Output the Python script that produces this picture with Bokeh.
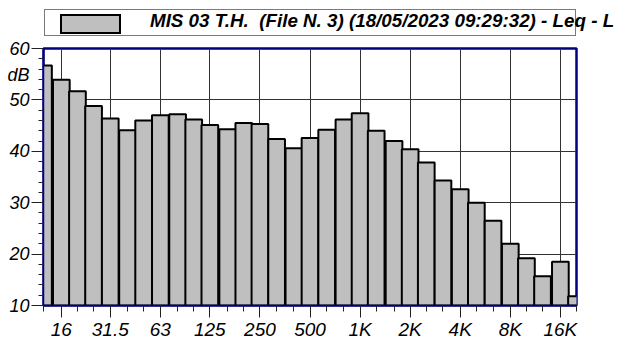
import html
from bokeh.plotting import figure
from bokeh.layouts import column
from bokeh.models import Range1d, FixedTicker, ColumnDataSource, LinearAxis, Div
from bokeh.embed import file_html
from bokeh.resources import INLINE

# Third-octave band centre frequencies (Hz)
freqs = [12.5, 16, 20, 25, 31.5, 40, 50, 63, 80, 100, 125, 160, 200, 250, 315,
         400, 500, 630, 800, 1000, 1250, 1600, 2000, 2500, 3150, 4000, 5000,
         6300, 8000, 10000, 12500, 16000, 20000]
# Leq levels (dB)
levels = [56.7, 53.9, 51.7, 48.8, 46.4, 44.1, 46.0, 47.0, 47.2, 46.2, 45.1,
          44.3, 45.5, 45.3, 42.4, 40.6, 42.6, 44.2, 46.2, 47.4, 44.0, 42.0,
          40.4, 37.8, 34.3, 32.6, 30.0, 26.5, 22.0, 19.2, 15.7, 18.5, 11.8]
tick_freqs = [16, 31.5, 63, 125, 250, 500, 1000, 2000, 4000, 8000, 16000]
tick_labels = ["16", "31.5", "63", "125", "250", "500", "1K", "2K", "4K", "8K", "16K"]
y_ticks = [10, 20, 30, 40, 50, 60]
y_minor = [12, 14, 16, 18, 22, 24, 26, 28, 32, 34, 36, 38, 42, 44, 46, 48,
           52, 54, 56, 58]
unit_label = "dB"
unit_pos = 54.8
legend_text = "MIS 03 T.H.\u00a0 (File N. 3) (18/05/2023 09:29:32) - Leq - L"

FONT = "Liberation Sans"
NAVY = "#000080"
BAR_FILL = "#bfbfbf"

# ---------------- legend strip (HTML) ----------------
legend_html = (
    '<div style="position:relative;width:620px;height:37px;overflow:hidden;'
    'margin:0;padding:0;">'
    '<div style="position:absolute;left:44px;top:9px;width:532px;height:27px;'
    'box-sizing:border-box;border:1.5px solid #7a7a7a;"></div>'
    '<div style="position:absolute;left:60px;top:13.5px;width:61px;height:20px;'
    'box-sizing:border-box;border:2px solid #000;background:' + BAR_FILL + ';"></div>'
    '<div style="position:absolute;left:150px;top:12px;white-space:pre;'
    "font-family:'Liberation Sans',Arial,sans-serif;font-size:18.8px;"
    'line-height:1;font-weight:bold;font-style:italic;color:#000;">'
    + html.escape(legend_text) + '</div></div>'
)
lg = Div(text=legend_html, width=620, height=37, margin=0,
         styles={"margin": "0", "padding": "0", "overflow": "hidden"})

# ---------------- main chart ----------------
half = 2 ** (1 / 6)
src = ColumnDataSource(dict(
    left=[f / half for f in freqs],
    right=[f * half for f in freqs],
    top=levels,
    bottom=[y_ticks[0]] * len(levels),
))

p = figure(width=620, height=305, x_axis_type="log",
           x_range=Range1d(12.5, 20000), y_range=Range1d(10, 60),
           output_backend="svg", toolbar_location=None,
           min_border_left=43, min_border_right=44,
           min_border_top=11, min_border_bottom=36)

p.quad(left="left", right="right", top="top", bottom="bottom", source=src,
       fill_color=BAR_FILL, line_color="black", line_width=2)

# x axis
xa = p.xaxis[0]
xa.ticker = FixedTicker(ticks=tick_freqs, minor_ticks=freqs)
xa.major_label_overrides = {t: l for t, l in zip(tick_freqs, tick_labels)}
xa.major_tick_out = 12
xa.minor_tick_out = 6
xa.major_label_text_font_size = "19px"
xa.major_label_standoff = 1

# inner y axis: line and ticks only
ya = p.yaxis[0]
ya.ticker = FixedTicker(ticks=y_ticks, minor_ticks=y_minor)
ya.major_label_overrides = {t: "" for t in y_ticks}
ya.major_tick_out = 12
ya.minor_tick_out = 5
ya.major_label_standoff = 0

# outer y axis: the labels (numbers and unit)
yb = LinearAxis(ticker=FixedTicker(ticks=y_ticks + [unit_pos], minor_ticks=[]))
yb.major_label_overrides = {unit_pos: unit_label}
yb.axis_line_color = None
yb.major_tick_line_color = None
yb.minor_tick_line_color = None
yb.major_tick_out = 0
yb.major_tick_in = 0
yb.minor_tick_out = 0
yb.minor_tick_in = 0
yb.major_label_standoff = 2
yb.major_label_text_font_size = "18px"
p.add_layout(yb, "left")

for ax in (xa, ya):
    ax.axis_line_color = NAVY
    ax.axis_line_width = 1.5
    ax.major_tick_line_color = "#222222"
    ax.minor_tick_line_color = "#222222"
    ax.major_tick_in = 0
    ax.minor_tick_in = 0
for ax in (xa, ya, yb):
    ax.major_label_text_font = FONT
    ax.major_label_text_font_style = "italic"
    ax.major_label_text_color = "black"

p.xgrid.ticker = FixedTicker(ticks=tick_freqs)
p.ygrid.ticker = FixedTicker(ticks=y_ticks)
p.grid.grid_line_color = "#333333"
p.grid.grid_line_width = 1

p.outline_line_color = NAVY
p.outline_line_width = 2.5
p.background_fill_color = "white"
p.border_fill_color = "white"

layout = column(lg, p, spacing=0)
open("out.html", "w").write(file_html(layout, INLINE))
